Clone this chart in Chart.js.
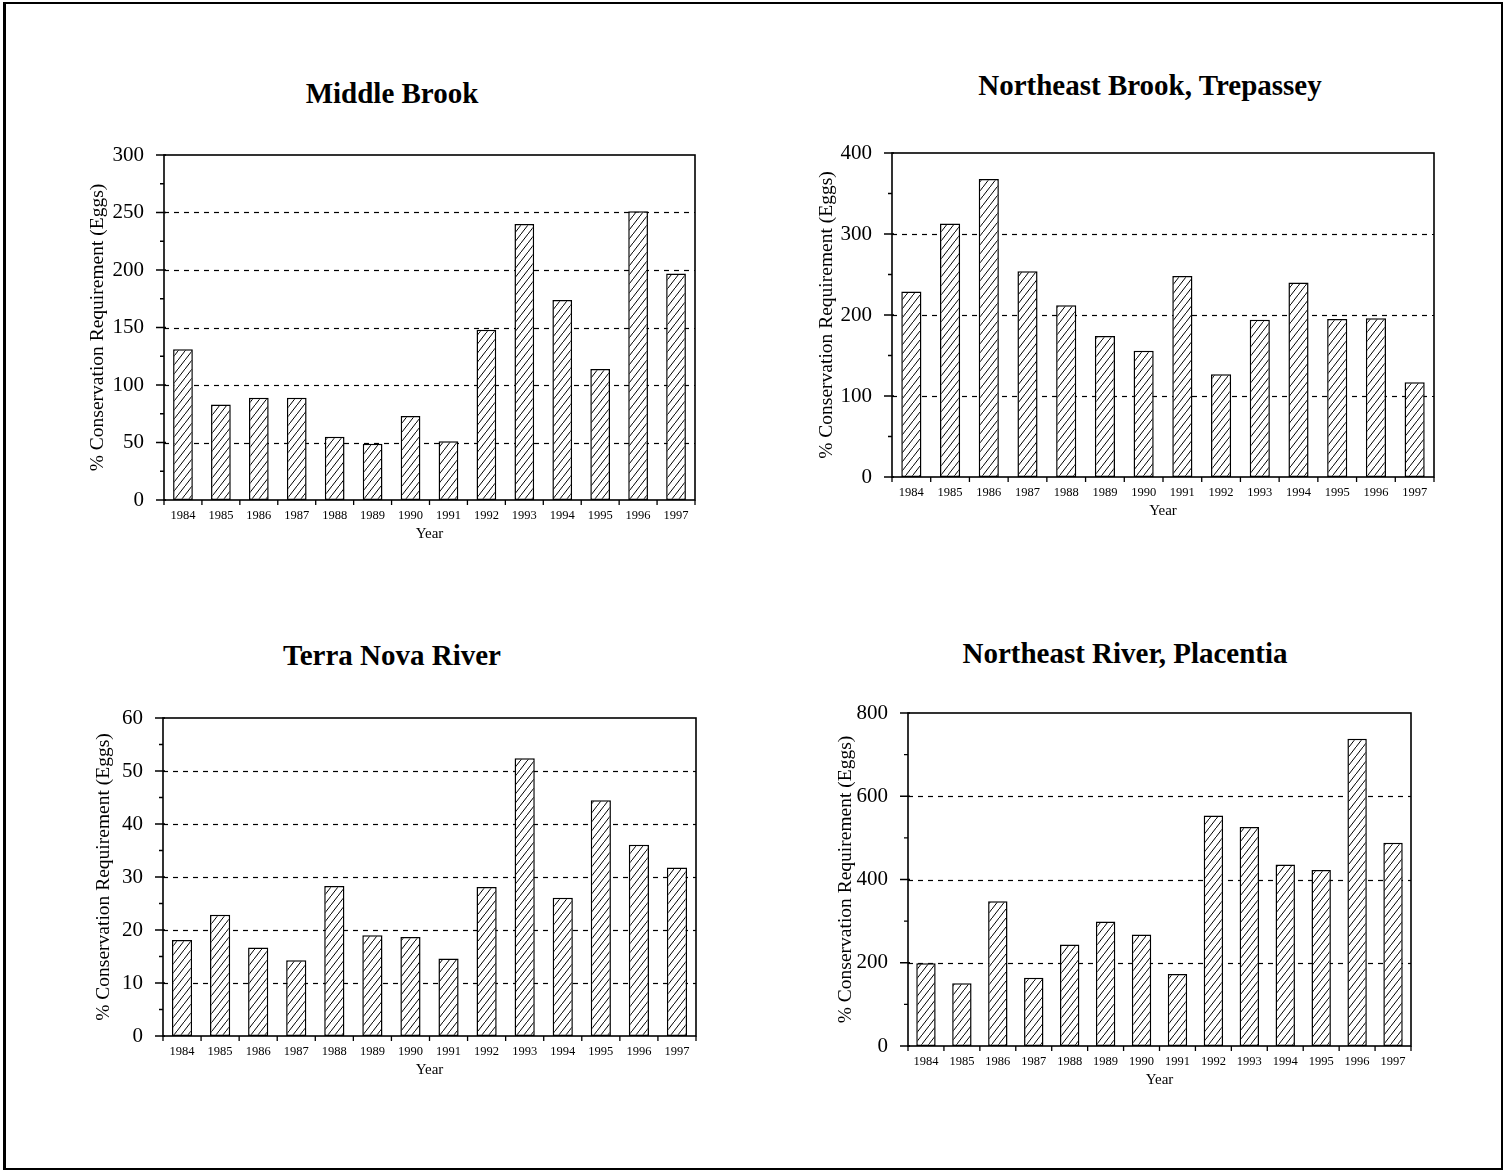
<!DOCTYPE html>
<html>
<head>
<meta charset="utf-8">
<script src="https://cdn.jsdelivr.net/npm/chart.js@4.4.1/dist/chart.umd.min.js"></script>
<style>
  body { margin: 0; background: #fff; width: 1503px; height: 1171px; position: relative; overflow: hidden; }
  .page { position: absolute; left: 3px; top: 2px; width: 1495px; height: 1164px; border: 2px solid #000; border-left-width: 3px; }
  .title { position: absolute; width: 600px; text-align: center; font: bold 29px "Liberation Serif", "Times New Roman", serif; line-height: 32px; color: #000; }
  canvas { position: absolute; }
</style>
</head>
<body>
<div class="page"></div>

<div class="title" style="left:92px; top:77px;">Middle Brook</div>
<div class="title" style="left:850px; top:69px;">Northeast Brook, Trepassey</div>
<div class="title" style="left:92px; top:639px;">Terra Nova River</div>
<div class="title" style="left:825px; top:637px;">Northeast River, Placentia</div>

<canvas id="c1" width="625" height="415" style="left:80px; top:135px;"></canvas>
<canvas id="c2" width="636" height="394" style="left:808px; top:133px;"></canvas>
<canvas id="c3" width="627" height="388" style="left:79px; top:698px;"></canvas>
<canvas id="c4" width="597" height="403" style="left:824px; top:693px;"></canvas>

<script>
// data
const years = ['1984', '1985', '1986', '1987', '1988', '1989', '1990', '1991', '1992', '1993', '1994', '1995', '1996', '1997'];

const middleBrook = [131, 83, 89, 89, 55, 49, 73, 51, 148, 240, 174, 114, 251, 197];
const trepassey   = [229, 313, 368, 254, 212, 174, 156, 248, 127, 194, 240, 195, 196, 117];
const terraNova   = [18.1, 22.9, 16.7, 14.3, 28.3, 19.0, 18.7, 14.6, 28.1, 52.4, 26.1, 44.5, 36.1, 31.8];
const placentia   = [199, 151, 348, 164, 244, 299, 268, 173, 554, 526, 436, 423, 738, 488];

// y axis: max, labelled step, minor tick step
const yMax   = [300, 400, 60, 800];
const yMajor = [50, 100, 10, 200];
const yMinor = [25, 50, 5, 100];

const serif = '"Liberation Serif", "Times New Roman", serif';
const yTitle = '% Conservation Requirement (Eggs)';

function hatch() {
    const c = document.createElement('canvas');
    c.width = 7;
    c.height = 9;
    const g = c.getContext('2d');
    g.fillStyle = '#fff';
    g.fillRect(0, 0, 7, 9);
    g.strokeStyle = '#000';
    g.lineWidth = 1;
    g.beginPath();
    g.moveTo(-1, 9 + 9 / 7);
    g.lineTo(8, -9 / 7);
    g.stroke();
    return g.createPattern(c, 'repeat');
}

// dashed grid, frame box and tick marks like the original
const frame = {
    id: 'frame',
    beforeDatasetsDraw(chart, args, opts) {
        const { ctx, chartArea: a } = chart;
        const y = chart.scales.y;
        ctx.save();
        ctx.strokeStyle = '#000';
        ctx.lineWidth = 1.2;
        ctx.setLineDash([5, 5]);
        for (let v = opts.major; v < opts.max; v += opts.major) {
            const py = Math.round(y.getPixelForValue(v)) + 0.5;
            ctx.beginPath();
            ctx.moveTo(a.left, py);
            ctx.lineTo(a.right, py);
            ctx.stroke();
        }
        ctx.restore();
    },
    afterDatasetsDraw(chart, args, opts) {
        const { ctx, chartArea: a } = chart;
        const y = chart.scales.y;
        ctx.save();
        ctx.strokeStyle = '#000';
        ctx.lineWidth = 1.6;
        ctx.strokeRect(a.left, a.top, a.right - a.left, a.bottom - a.top);
        ctx.lineWidth = 1.3;
        ctx.beginPath();
        for (let v = 0; v <= opts.max; v += opts.minor) {
            const py = y.getPixelForValue(v);
            const isMajor = v % opts.major === 0;
            ctx.moveTo(a.left - (isMajor ? 8 : 4), py);
            ctx.lineTo(a.left + (isMajor ? 2 : 0), py);
        }
        const n = chart.data.labels.length;
        for (let i = 0; i <= n; i++) {
            const px = a.left + (a.right - a.left) * i / n;
            ctx.moveTo(px, a.bottom);
            ctx.lineTo(px, a.bottom + 5);
        }
        ctx.stroke();
        ctx.restore();
    }
};

function makeChart(id, values, k, barPct, titlePad) {
    const ctx = document.getElementById(id).getContext('2d');
    return new Chart(ctx, {
        type: 'bar',
        data: {
            labels: years,
            datasets: [{
                data: values,
                backgroundColor: hatch(),
                borderColor: '#000',
                borderWidth: 1.5,
                borderSkipped: false,
                categoryPercentage: 1,
                barPercentage: barPct
            }]
        },
        options: {
            responsive: false,
            animation: false,
            events: [],
            layout: { padding: { top: 20, right: 10, bottom: 0, left: 0 } },
            scales: {
                x: {
                    grid: { display: false, drawTicks: false },
                    border: { display: false },
                    ticks: {
                        color: '#000',
                        font: { family: serif, size: 12.5 },
                        padding: 8,
                        maxRotation: 0,
                        autoSkip: false
                    },
                    title: {
                        display: true,
                        text: 'Year',
                        color: '#000',
                        font: { family: serif, size: 15 },
                        padding: { top: 0, bottom: 7 }
                    },
                    afterFit: s => { s.height = 50; }
                },
                y: {
                    min: 0,
                    max: yMax[k],
                    grid: { display: false, drawTicks: false },
                    border: { display: false },
                    ticks: {
                        stepSize: yMinor[k],
                        autoSkip: false,
                        color: '#000',
                        font: { family: serif, size: 21 },
                        padding: 20,
                        callback: v => (v % yMajor[k] === 0 ? v : '')
                    },
                    title: {
                        display: true,
                        text: yTitle,
                        color: '#000',
                        font: { family: serif, size: 19.5 },
                        padding: { top: titlePad, bottom: 0 }
                    },
                    afterFit: s => {
                        s.width = 84;
                        s.paddingTop = 10;
                        s.paddingBottom = 10;
                    }
                }
            },
            plugins: {
                legend: { display: false },
                tooltip: { enabled: false },
                frame: { max: yMax[k], major: yMajor[k], minor: yMinor[k] }
            }
        },
        plugins: [frame]
    });
}

makeChart('c1', middleBrook, 0, 0.52, 6);
makeChart('c2', trepassey, 1, 0.52, 7);
makeChart('c3', terraNova, 2, 0.53, 13);
makeChart('c4', placentia, 3, 0.54, 10);
</script>
</body>
</html>
